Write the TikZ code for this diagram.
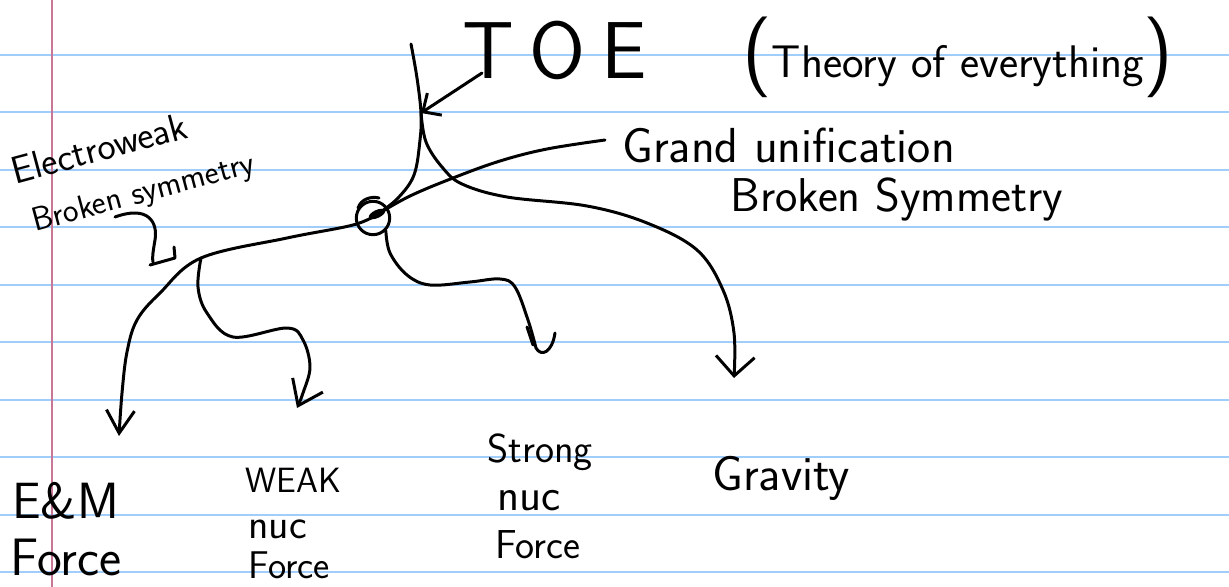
\documentclass[tikz,border=0pt]{standalone}
\usetikzlibrary{arrows.meta}
\definecolor{ruleblue}{RGB}{160,205,250}
\definecolor{marginred}{RGB}{200,120,150}
\tikzset{
  ink/.style={line width=1.7pt, line cap=round, line join=round, black},
  barb/.style 2 args={-{Straight Barb[length=#1, width=#2, line width=1.7pt]}},
  lbl/.style={font=\sffamily, inner sep=0pt, anchor=base west},
  paperrule/.style={line width=1.1pt, ruleblue},
}
\newcommand{\fs}[1]{\fontsize{#1}{#1}\selectfont}
\begin{document}
\begin{tikzpicture}[x=0.02cm,y=-0.02cm]
\fill[white] (0,0) rectangle (1229,587);
\useasboundingbox (0,0) rectangle (1229,587);
% lined paper
\foreach \yy in {55,112,170,227,285,342,400,457,515,572}
  \draw[paperrule] (0,\yy) -- (1229,\yy);
\draw[line width=1.1pt, marginred] (52,0) -- (52,587);

% labels
\node[lbl, font=\sffamily\fs{46}] (toe) at (462,79) {T\kern9pt O\kern9pt E};
\node[lbl, font=\sffamily\fs{26}] (theory) at (742,78) {{\fs{46}(}Theory of everything{\fs{46})}};
\node[lbl, font=\sffamily\fs{28}] (gut) at (622,163) {Grand unification};
\node[lbl, font=\sffamily\fs{27}] (gutbs) at (730,212) {Broken Symmetry};
\node[font=\sffamily\fs{22}, inner sep=0pt, align=left, rotate=15, anchor=north west] (ew) at (8,158)
  {Electroweak\\[7pt]\hspace*{4pt}{\fs{19}Broken symmetry}};
\node[lbl, font=\sffamily\fs{29}] (em) at (12,518) {E\&M};
\node[lbl, font=\sffamily\fs{30}] (emf) at (10,575) {Force};
\node[lbl, font=\sffamily\fs{20}] (weak) at (245,492) {WEAK};
\node[lbl, font=\sffamily\fs{24}] (weaknuc) at (248,538) {nuc};
\node[lbl, font=\sffamily\fs{22}] (weakf) at (248,578) {Force};
\node[lbl, font=\sffamily\fs{23}] (strong) at (487,462) {Strong};
\node[lbl, font=\sffamily\fs{26}] (strongnuc) at (497,510) {nuc};
\node[lbl, font=\sffamily\fs{23}] (strongf) at (495,558) {Force};
\node[lbl, font=\sffamily\fs{28}] (grav) at (712,490) {Gravity};

% unification point
\node[circle, draw, ink, minimum size=19pt, inner sep=0pt] (gu) at (373,218) {};
\fill[rotate around={25:(377,214)}] (377,214) ellipse (9 and 4);
\draw[ink] (358,208) .. controls (361,199) and (371,196) .. (379,198);

% coordinates
\coordinate (top) at (411,44);
\coordinate (fork) at (421,113);
\coordinate (wk) at (201,258);
\coordinate (toetail) at (482,73);
\coordinate (gutend) at (605,140);

% stem into the circle
\draw[ink] plot[smooth, tension=0.6] coordinates {(top) (417,78) (fork) (420,140) (414,175) (398,198) (378,214)};
% TOE pointer
\draw[ink, barb={8pt}{15pt}] (toetail) -- (fork);
% gravity branch
\draw[ink, barb={11pt}{22pt}] plot[smooth, tension=0.6] coordinates {(fork) (426,142) (442,167) (462,184) (507,197) (587,206) (647,223) (697,250) (723,290) (734,333) (734,378)};
% grand unification pointer
\draw[ink] plot[smooth, tension=0.6] coordinates {(378,214) (410,196) (453,178) (500,161) (547,149) (gutend)};
% electroweak branch to E&M
\draw[ink, barb={13pt}{16pt}] plot[smooth, tension=0.6] coordinates {(378,214) (353,225) (287,238) (wk) (160,293) (137,320) (127,352) (122,393) (119,436)};
% weak branch
\draw[ink, barb={13pt}{19pt}] plot[smooth, tension=0.6] coordinates {(wk) (198,287) (207,313) (233,337) (287,328) (303,340) (310,367) (303,393) (297,408)};
% strong branch with hook
\draw[ink] plot[smooth, tension=0.6] coordinates {(gu.south east) (390,253) (407,275) (430,285) (470,282) (500,279) (515,287) (528,320) (536,348)}
  .. controls (541,357) and (552,353) .. (555,333);
\draw[ink] (527,327) -- (533,345);
% electroweak pointer squiggle
\draw[ink] (115,217) .. controls (148,205) and (158,222) .. (155,240) .. controls (153,252) and (152,258) .. (153,262);
\draw[ink] (150,265) -- (175,258) -- (174,247);
\end{tikzpicture}
\end{document}
